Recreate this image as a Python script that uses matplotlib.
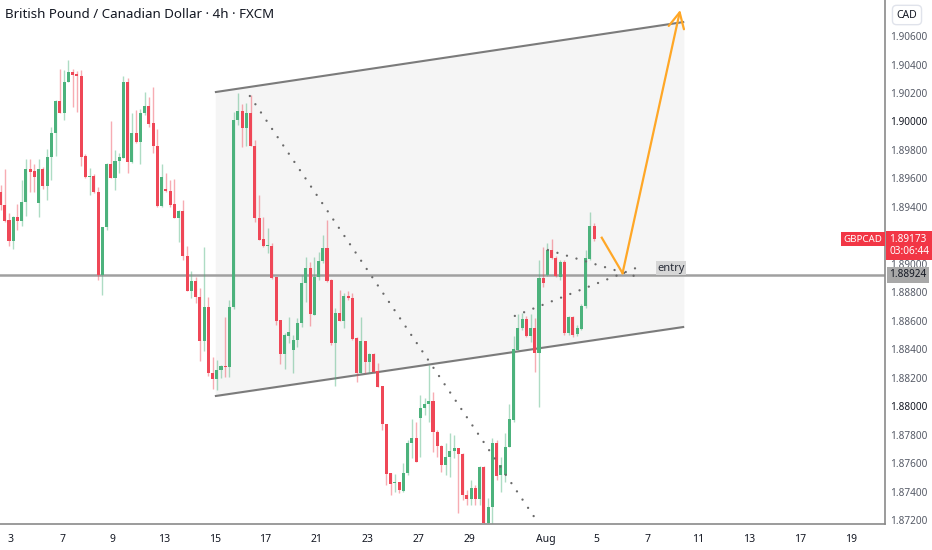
import numpy as np
import matplotlib
matplotlib.use("Agg")
import matplotlib.pyplot as plt

plt.rcParams['font.family'] = ['Noto Sans', 'DejaVu Sans']

# 4h candles GBPCAD
opens = [1.89505, 1.89414, 1.89309, 1.89161, 1.89330, 1.89302, 1.89435, 1.89667, 1.89653, 1.89428,
         1.89667, 1.89547, 1.89751, 1.89920, 1.90144, 1.90060, 1.90277, 1.90348, 1.90334, 1.90319,
         1.89758, 1.89610, 1.89618, 1.89505, 1.88923, 1.89259, 1.89702, 1.89603, 1.89723, 1.89744,
         1.90277, 1.89716, 1.89920, 1.89856, 1.90060, 1.90109, 1.89990, 1.89828, 1.89407, 1.89526,
         1.89512, 1.89421, 1.89323, 1.89372, 1.89056, 1.88810, 1.88880, 1.88768, 1.88459, 1.88698,
         1.88235, 1.88192, 1.88256, 1.88284, 1.88277, 1.88698, 1.90011, 1.90074, 1.89955, 1.90060,
         1.89828, 1.89323, 1.89175, 1.89126, 1.89126, 1.88908, 1.88607, 1.88368, 1.88494, 1.88396,
         1.88466, 1.88586, 1.88866, 1.88972, 1.88642, 1.88908, 1.89021, 1.89112, 1.88887, 1.88445,
         1.88656, 1.88600, 1.88775, 1.88761, 1.88480, 1.88235, 1.88459, 1.88312, 1.88368, 1.88249,
         1.88143, 1.87877, 1.87533, 1.87463, 1.87470, 1.87406, 1.87533, 1.87743, 1.87778, 1.87919,
         1.87989, 1.88017, 1.88038, 1.87821, 1.87722, 1.87589, 1.87645, 1.87687, 1.87708, 1.87666,
         1.87378, 1.87350, 1.87427, 1.87350, 1.87575, 1.87182, 1.87294, 1.87743, 1.87519, 1.87519,
         1.87715, 1.87905, 1.88396, 1.88551, 1.88614, 1.88494, 1.88551, 1.88375, 1.88901, 1.88923,
         1.89098, 1.89042, 1.88908, 1.89014, 1.88516, 1.88628, 1.88509, 1.88544, 1.88705, 1.89035,
         1.89267]
highs = [1.89554, 1.89667, 1.89358, 1.89337, 1.89421, 1.89589, 1.89737, 1.89737, 1.89702, 1.89737,
         1.89681, 1.89807, 1.89961, 1.90151, 1.90369, 1.90362, 1.90432, 1.90369, 1.90355, 1.90362,
         1.89772, 1.89674, 1.89632, 1.89540, 1.89259, 1.89709, 1.90004, 1.89800, 1.89779, 1.90319,
         1.90305, 1.90060, 1.90081, 1.90088, 1.90207, 1.90172, 1.90242, 1.89947, 1.89702, 1.89639,
         1.89589, 1.89596, 1.89379, 1.89449, 1.89126, 1.88951, 1.88908, 1.88831, 1.89119, 1.88768,
         1.88347, 1.88326, 1.88291, 1.88628, 1.88747, 1.90067, 1.90200, 1.90123, 1.90130, 1.90186,
         1.89870, 1.89484, 1.89330, 1.89252, 1.89147, 1.88908, 1.88607, 1.88516, 1.88628, 1.88501,
         1.88621, 1.88923, 1.89049, 1.89014, 1.89049, 1.89084, 1.89203, 1.89309, 1.88894, 1.88691,
         1.88817, 1.88796, 1.88810, 1.88796, 1.88487, 1.88628, 1.88459, 1.88375, 1.88375, 1.88305,
         1.88143, 1.87877, 1.87533, 1.87526, 1.87470, 1.87603, 1.87764, 1.87912, 1.87891, 1.88080,
         1.88059, 1.88291, 1.88101, 1.87835, 1.87729, 1.87743, 1.87814, 1.87800, 1.87708, 1.87673,
         1.87413, 1.87484, 1.87449, 1.87582, 1.87582, 1.87357, 1.87778, 1.87764, 1.87645, 1.87814,
         1.88017, 1.88494, 1.88649, 1.88656, 1.88635, 1.88649, 1.88621, 1.89028, 1.89119, 1.89147,
         1.89175, 1.89056, 1.89028, 1.89028, 1.88635, 1.88635, 1.88572, 1.88719, 1.89098, 1.89365,
         1.89288]
lows = [1.89379, 1.89295, 1.89126, 1.89105, 1.89238, 1.89267, 1.89337, 1.89505, 1.89505, 1.89330,
        1.89526, 1.89449, 1.89589, 1.89758, 1.90060, 1.90011, 1.90277, 1.90102, 1.90067, 1.89688,
        1.89603, 1.89484, 1.89498, 1.88887, 1.88782, 1.89238, 1.89603, 1.89519, 1.89639, 1.89744,
        1.89639, 1.89709, 1.89849, 1.89702, 1.90046, 1.89961, 1.89779, 1.89400, 1.89400, 1.89505,
        1.89400, 1.89323, 1.89154, 1.89028, 1.88810, 1.88761, 1.88726, 1.88319, 1.88389, 1.88214,
        1.88122, 1.88115, 1.88200, 1.88207, 1.88207, 1.88684, 1.89976, 1.89821, 1.89828, 1.89828,
        1.89295, 1.89168, 1.89119, 1.89077, 1.88894, 1.88572, 1.88298, 1.88263, 1.88445, 1.88235,
        1.88417, 1.88558, 1.88733, 1.88565, 1.88642, 1.88887, 1.89007, 1.88873, 1.88431, 1.88143,
        1.88600, 1.88551, 1.88747, 1.88466, 1.88172, 1.88235, 1.88235, 1.88235, 1.88235, 1.88136,
        1.87835, 1.87449, 1.87378, 1.87399, 1.87392, 1.87399, 1.87519, 1.87638, 1.87610, 1.87645,
        1.87940, 1.87891, 1.87680, 1.87645, 1.87540, 1.87519, 1.87505, 1.87638, 1.87252, 1.87343,
        1.87308, 1.87308, 1.87308, 1.87308, 1.87175, 1.87175, 1.87175, 1.87484, 1.87399, 1.87470,
        1.87715, 1.87891, 1.88396, 1.88537, 1.88487, 1.88452, 1.88242, 1.87996, 1.88838, 1.88916,
        1.89035, 1.88908, 1.88887, 1.88501, 1.88501, 1.88487, 1.88494, 1.88537, 1.88691, 1.89028,
        1.89161]
closes = [1.89414, 1.89302, 1.89161, 1.89330, 1.89302, 1.89435, 1.89667, 1.89646, 1.89610, 1.89667,
          1.89547, 1.89751, 1.89920, 1.90144, 1.90060, 1.90277, 1.90348, 1.90326, 1.90319, 1.89751,
          1.89610, 1.89618, 1.89505, 1.88923, 1.89259, 1.89702, 1.89603, 1.89723, 1.89751, 1.90277,
          1.89716, 1.89920, 1.89856, 1.90060, 1.90109, 1.89983, 1.89828, 1.89407, 1.89610, 1.89512,
          1.89414, 1.89323, 1.89372, 1.89056, 1.88810, 1.88880, 1.88768, 1.88459, 1.88698, 1.88235,
          1.88192, 1.88256, 1.88284, 1.88277, 1.88698, 1.90011, 1.90074, 1.89955, 1.90060, 1.89828,
          1.89323, 1.89168, 1.89126, 1.89133, 1.88901, 1.88600, 1.88368, 1.88501, 1.88522, 1.88466,
          1.88586, 1.88866, 1.88972, 1.88649, 1.88908, 1.89021, 1.89112, 1.88880, 1.88445, 1.88656,
          1.88600, 1.88775, 1.88761, 1.88473, 1.88235, 1.88459, 1.88312, 1.88368, 1.88242, 1.88136,
          1.87877, 1.87526, 1.87456, 1.87470, 1.87413, 1.87533, 1.87743, 1.87778, 1.87610, 1.87989,
          1.88017, 1.88038, 1.87821, 1.87722, 1.87589, 1.87645, 1.87687, 1.87708, 1.87666, 1.87378,
          1.87350, 1.87427, 1.87350, 1.87575, 1.87182, 1.87294, 1.87743, 1.87512, 1.87589, 1.87715,
          1.87912, 1.88403, 1.88551, 1.88614, 1.88494, 1.88551, 1.88375, 1.88901, 1.88866, 1.89098,
          1.89042, 1.88916, 1.89014, 1.88516, 1.88628, 1.88501, 1.88551, 1.88705, 1.89042, 1.89267,
          1.89173]

date_labels = ["3", "7", "9", "13", "15", "17", "21", "23", "27", "29", "Aug", "5", "7", "11", "13", "17", "19"]
date_pos = [2.3, 14.5, 26.5, 38.5, 50.5, 62.5, 74.5, 86.5, 98.5, 110.5, 128.5, 140.5, 152.5, 164.5, 176.5, 188.5, 200.5]
price_ticks = [1.872, 1.874, 1.876, 1.878, 1.880, 1.882, 1.884, 1.886, 1.888, 1.890,
               1.892, 1.894, 1.896, 1.898, 1.900, 1.902, 1.904, 1.906]

# drawings on the chart
channel_x = [50.8, 161.0]
channel_top = [1.90207, 1.90698]
channel_bot = [1.88073, 1.88557]
diag_x = [58.8, 126.5]
diag_y = [1.90179, 1.87196]
tri_up_x = [129.1, 149.4]
tri_up_y = [1.89098, 1.88916]
tri_lo_x = [121.3, 149.9]
tri_lo_y = [1.88635, 1.88972]
path_x = [141.8, 146.7, 160.3]
path_y = [1.89184, 1.88935, 1.90783]
entry = 1.88924
last_price = 1.89173
countdown = "03:06:44"

green = "#4cb27c"
red = "#ef4757"

fig = plt.figure(figsize=(9.32, 5.5), dpi=100)
ax = fig.add_axes([0, 26 / 550, 885 / 932, 524 / 550])

o = np.array(opens)
h = np.array(highs)
l = np.array(lows)
c = np.array(closes)
x = np.arange(len(o))
up = c >= o
cols = np.where(up, green, red)

# channel
ax.fill_between(channel_x, channel_bot, channel_top, color="#f5f5f5", zorder=0)
ax.plot(channel_x, channel_top, color="#7b7b7b", lw=1.5, zorder=1)
ax.plot(channel_x, channel_bot, color="#7b7b7b", lw=1.5, zorder=1)

# candles
ax.vlines(x, l, h, colors=cols, lw=1.0, alpha=0.45, zorder=2)
body_lo = np.minimum(o, c)
body_h = np.maximum(np.abs(c - o), 0.00006)
ax.bar(x, body_h, bottom=body_lo, width=0.72, color=cols, zorder=3)

# entry line
ax.axhline(entry, color="#a0a0a0", lw=1.8, zorder=1.5)

# dotted lines
dot = dict(color="#6a6a6a", lw=1.7, linestyle=(0, (0.01, 4.2)), dash_capstyle="round", zorder=4)
ax.plot(diag_x, diag_y, **dot)
ax.plot(tri_up_x, tri_up_y, **dot)
ax.plot(tri_lo_x, tri_lo_y, **dot)

# projected path
ax.plot(path_x[:2], path_y[:2], color="#ffa726", lw=1.6, zorder=5)
ax.annotate("", xy=(path_x[2], path_y[2]), xytext=(path_x[1], path_y[1]),
            arrowprops=dict(arrowstyle="->,head_length=0.7,head_width=0.35", color="#ffa726",
                            lw=1.6, shrinkA=0, shrinkB=0, mutation_scale=16), zorder=5)

ax.text(158.1, entry + 0.00008, "entry", fontsize=8, color="#2a2e39", ha="center", va="bottom",
        bbox=dict(boxstyle="square,pad=0.15", fc="#d6d6d6", ec="none"), zorder=6)

ax.set_xlim(-0.12, 208.6)
ax.set_ylim(1.87174, 1.90853)

ax.set_xticks(date_pos)
ax.set_xticklabels(date_labels)
ax.yaxis.tick_right()
ax.set_yticks(price_ticks)
ax.set_yticklabels(["%.5f" % p for p in price_ticks])
ax.tick_params(axis="x", length=0, pad=7, labelsize=7.5, colors="#131722")
ax.tick_params(axis="y", length=0, pad=4, labelsize=7.2, colors="#555a66")
for t, p in zip(ax.get_yticklabels(), price_ticks):
    if abs(p - 1.900) < 1e-9 or abs(p - 1.880) < 1e-9:
        t.set_color("#131722")
        t.set_fontweight("bold")

for s in ["top", "left"]:
    ax.spines[s].set_visible(False)
ax.spines["right"].set_color("#8a8a8a")
ax.spines["bottom"].set_color("#8a8a8a")
ax.spines["bottom"].set_linewidth(1.2)
ax.spines["right"].set_linewidth(1.2)

# right-hand labels
ax.annotate("GBPCAD", xy=(0.997, last_price), xycoords=("axes fraction", "data"),
            ha="right", va="center", fontsize=7, color="white", annotation_clip=False,
            bbox=dict(boxstyle="square,pad=0.25", fc="#f23645", ec="none"), zorder=7)
ax.annotate("%.5f\n%s" % (last_price, countdown), xy=(1.005, last_price - 0.00046),
            xycoords=("axes fraction", "data"),
            ha="left", va="center", fontsize=7.2, color="white", linespacing=1.1, annotation_clip=False,
            bbox=dict(boxstyle="square,pad=0.3", fc="#f23645", ec="none"), zorder=7)
ax.annotate("%.5f" % entry, xy=(1.005, entry), xycoords=("axes fraction", "data"),
            ha="left", va="center", fontsize=7.2, color="#131722", annotation_clip=False,
            bbox=dict(boxstyle="square,pad=0.25", fc="#a8a8a8", ec="none"), zorder=7)

fig.text(907 / 932, 1 - 15 / 550, "CAD", fontsize=7.5, color="#131722", ha="center", va="center",
         bbox=dict(boxstyle="round,pad=0.4", fc="white", ec="#e0e3eb"))
fig.text(5 / 932, 1 - 15 / 550, "British Pound / Canadian Dollar · 4h · FXCM", fontsize=9.6,
         color="#131722", ha="left", va="center")

fig.savefig("out.png", dpi=100, facecolor="white")
